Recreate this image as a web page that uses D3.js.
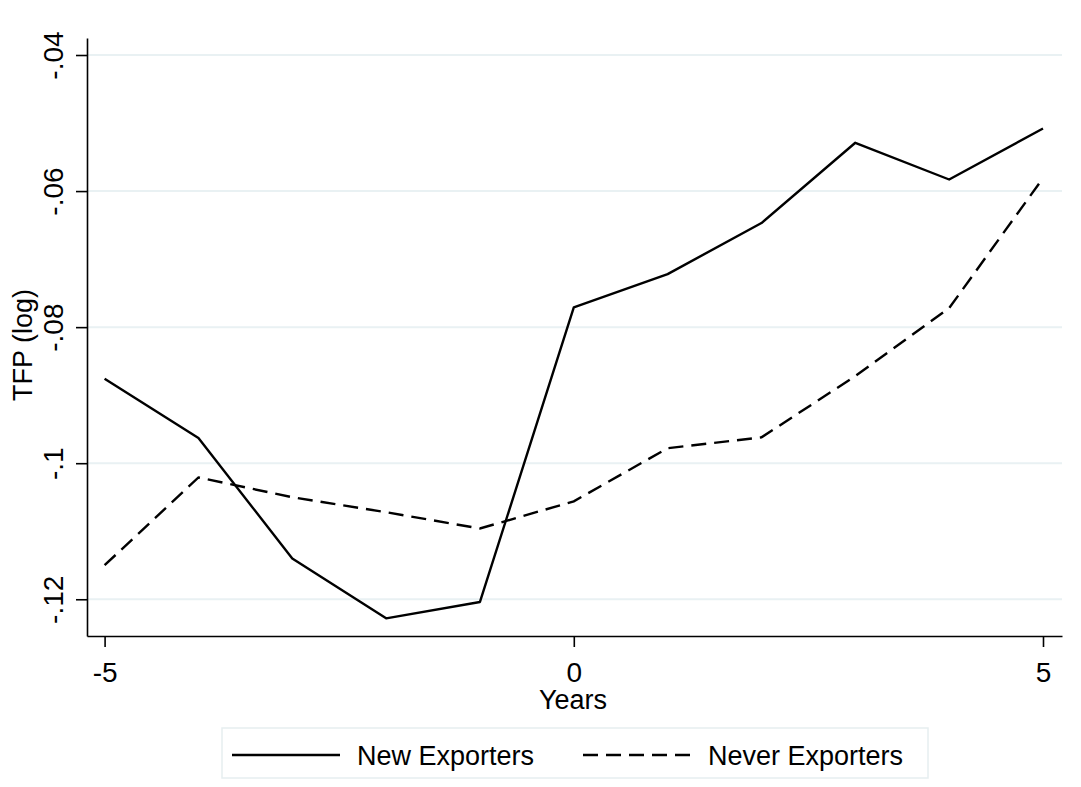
<!DOCTYPE html>
<html>
<head>
<meta charset="utf-8">
<script src="https://cdn.jsdelivr.net/npm/d3@7"></script>
<style>
  body { margin: 0; background: #fff; }
  svg { font-family: "Liberation Sans", Arial, sans-serif; }
</style>
</head>
<body>
<svg id="chart" width="1081" height="787"></svg>
<script>
const years = [-5, -4, -3, -2, -1, 0, 1, 2, 3, 4, 5];
const newExporters = [-0.0876, -0.0963, -0.1140, -0.1228, -0.1204, -0.0771, -0.0722, -0.0647, -0.0529, -0.0583, -0.0508];
const neverExporters = [-0.1150, -0.1021, -0.1050, -0.1072, -0.1096, -0.1056, -0.0978, -0.0962, -0.0872, -0.0772, -0.0581];
const yTicks = [-0.12, -0.1, -0.08, -0.06, -0.04];
const xTicks = [-5, 0, 5];
const seriesNames = ["New Exporters", "Never Exporters"];

const svg = d3.select("#chart");

const x = d3.scaleLinear().domain([-5.1875, 5.2025]).range([87, 1062]);
const y = d3.scaleLinear().domain([-0.1254, -0.0375]).range([636, 38]);

// stata style labels: -.04, -.1
const fmt = (d) => {
  let s = String(+d.toFixed(2));
  return s.replace(/^(-?)0\./, "$1.");
};

// gridlines
svg.append("g")
  .selectAll("line")
  .data(yTicks)
  .enter()
  .append("line")
  .attr("x1", 88)
  .attr("x2", 1062)
  .attr("y1", (d) => y(d))
  .attr("y2", (d) => y(d))
  .attr("stroke", "#e9f1f3")
  .attr("stroke-width", 2);

const yAxis = svg.append("g")
  .attr("transform", "translate(87,0)")
  .call(d3.axisLeft(y).tickValues(yTicks).tickSize(11).tickSizeOuter(0).tickFormat(fmt));
yAxis.select(".domain").attr("stroke", "#000").attr("stroke-width", 1.6);
yAxis.selectAll(".tick line").attr("stroke", "#000").attr("stroke-width", 1.6);
yAxis.selectAll(".tick text")
  .attr("font-size", 28)
  .attr("fill", "#000")
  .attr("text-anchor", "middle")
  .attr("transform", "rotate(-90)")
  .attr("x", 0)
  .attr("y", -24)
  .attr("dy", 0);

const xAxis = svg.append("g")
  .attr("transform", "translate(0,636)")
  .call(d3.axisBottom(x).tickValues(xTicks).tickSize(11).tickSizeOuter(0).tickFormat((d) => d));
xAxis.select(".domain").attr("stroke", "#000").attr("stroke-width", 1.6);
xAxis.selectAll(".tick line").attr("stroke", "#000").attr("stroke-width", 1.6);
xAxis.selectAll(".tick text")
  .attr("font-size", 28)
  .attr("fill", "#000")
  .attr("y", 26)
  .attr("dy", "0.71em");

svg.append("text")
  .attr("x", 573)
  .attr("y", 709)
  .attr("text-anchor", "middle")
  .attr("font-size", 27)
  .text("Years");

svg.append("text")
  .attr("transform", "translate(32,345) rotate(-90)")
  .attr("text-anchor", "middle")
  .attr("font-size", 27)
  .text("TFP (log)");

const line = d3.line()
  .x((d, i) => x(years[i]))
  .y((d) => y(d));

svg.append("path")
  .datum(newExporters)
  .attr("fill", "none")
  .attr("stroke", "#000")
  .attr("stroke-width", 2.4)
  .attr("stroke-linejoin", "round")
  .attr("d", line);

svg.append("path")
  .datum(neverExporters)
  .attr("fill", "none")
  .attr("stroke", "#000")
  .attr("stroke-width", 2.4)
  .attr("stroke-dasharray", "15,8")
  .attr("d", line);

// legend
const legend = svg.append("g");
legend.append("rect")
  .attr("x", 222)
  .attr("y", 728)
  .attr("width", 706)
  .attr("height", 50)
  .attr("fill", "#fff")
  .attr("stroke", "#e6eef0")
  .attr("stroke-width", 1.5);

const legendItems = [
  { name: seriesNames[0], x: 232, dash: null },
  { name: seriesNames[1], x: 583, dash: "15,8" }
];
legendItems.forEach((it) => {
  legend.append("line")
    .attr("x1", it.x)
    .attr("x2", it.x + 108)
    .attr("y1", 755)
    .attr("y2", 755)
    .attr("stroke", "#000")
    .attr("stroke-width", 2.4)
    .attr("stroke-dasharray", it.dash);
  legend.append("text")
    .attr("x", it.x + 125)
    .attr("y", 765)
    .attr("font-size", 27)
    .text(it.name);
});
</script>
</body>
</html>
